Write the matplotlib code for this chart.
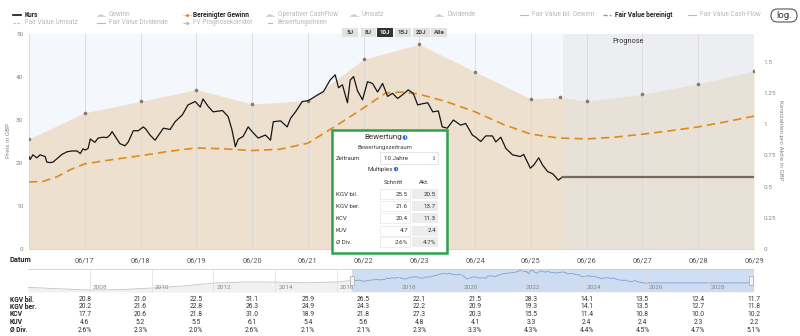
import matplotlib
matplotlib.use('Agg')
import matplotlib.pyplot as plt
import matplotlib.transforms as mtransforms
from matplotlib.patches import Rectangle, FancyBboxPatch, Circle

plt.rcParams['font.family'] = ['Roboto', 'DejaVu Sans']

# ---------------- Daten ----------------
# Kurs (GBP), Jahr als Dezimalzahl
kurs_jahr = [2016.50, 2016.52, 2016.57, 2016.64, 2016.70, 2016.79, 2016.82, 2016.88, 2016.93,
             2017.02, 2017.09, 2017.18, 2017.27, 2017.36, 2017.42, 2017.47, 2017.51, 2017.56,
             2017.60, 2017.68, 2017.74, 2017.83, 2017.90, 2017.95, 2017.99, 2018.04, 2018.13,
             2018.22, 2018.28, 2018.37, 2018.46, 2018.55, 2018.60, 2018.67, 2018.76, 2018.91,
             2019.03, 2019.12, 2019.25, 2019.35, 2019.48, 2019.57, 2019.62, 2019.71, 2019.80,
             2019.97, 2020.07, 2020.14, 2020.20, 2020.25, 2020.34, 2020.43, 2020.50, 2020.61,
             2020.74, 2020.83, 2020.88, 2021.01, 2021.13, 2021.19, 2021.28, 2021.40, 2021.51,
             2021.67, 2021.78, 2021.90, 2021.99, 2022.05, 2022.12, 2022.21, 2022.26, 2022.32,
             2022.39, 2022.48, 2022.57, 2022.66, 2022.75, 2022.84, 2022.93, 2023.02, 2023.11,
             2023.21, 2023.30, 2023.39, 2023.47, 2023.56, 2023.65, 2023.74, 2023.84, 2023.91,
             2024.00, 2024.11, 2024.24, 2024.33, 2024.45, 2024.51, 2024.60, 2024.69, 2024.81,
             2024.87, 2024.96, 2025.05, 2025.17, 2025.31, 2025.37, 2025.49, 2025.55, 2025.64,
             2025.71, 2025.80, 2025.89, 2025.94, 2025.99, 2026.07]
kurs = [21.5, 20.8, 21.9, 21.2, 21.9, 21.5, 20.2, 20.1, 20.2,
        21.2, 22.0, 22.6, 22.8, 22.8, 22.2, 23.3, 23.0, 23.4,
        25.6, 24.8, 25.8, 26.0, 25.9, 26.5, 27.3, 26.3, 24.5,
        24.0, 24.9, 27.5, 27.5, 28.4, 27.8, 26.5, 25.3, 28.1,
        27.8, 29.6, 31.2, 33.5, 34.3, 33.0, 34.9, 33.2, 31.9,
        32.2, 30.8, 27.7, 23.8, 25.5, 26.2, 28.4, 27.3, 25.8,
        26.5, 25.3, 29.6, 29.8, 28.4, 30.4, 31.9, 34.3, 34.5,
        35.8, 36.6, 39.3, 40.5, 37.5, 38.2, 34.0, 39.3, 40.1,
        36.8, 34.7, 38.9, 38.5, 36.5, 38.5, 35.5, 36.2, 35.0,
        36.0, 37.0, 36.2, 33.5, 33.8, 34.0, 31.9, 32.1, 28.4,
        28.1, 30.0, 28.8, 29.2, 26.5, 26.0, 25.0, 26.3, 26.3,
        24.9, 26.0, 23.4, 21.9, 21.5, 22.0, 18.8, 19.5, 21.2,
        19.5, 18.0, 17.5, 16.8, 16.0, 16.8]

# Fair Value bereinigt (GBP)
fv_jahr = [2016.5, 2016.75, 2017.0, 2017.25, 2017.5, 2018.0, 2018.5, 2019.0, 2019.5, 2020.0,
           2020.5, 2021.0, 2021.5, 2022.0, 2022.5, 2022.9, 2023.2, 2023.5, 2024.0, 2024.5,
           2025.0, 2025.5, 2026.0, 2026.5, 2027.0, 2027.5, 2028.0, 2028.5, 2029.0, 2029.5]
fv_bereinigt = [15.6, 15.7, 16.8, 18.5, 19.8, 20.8, 21.7, 22.7, 23.5, 23.3,
                22.9, 23.2, 24.6, 28.6, 32.8, 36.3, 36.5, 36.0, 34.2, 31.9,
                29.0, 26.7, 25.8, 25.6, 26.0, 26.7, 27.5, 28.4, 29.6, 30.9]

# Bereinigter Gewinn pro Aktie (GBP, rechte Achse)
gewinn_jahr = [2016.5, 2017.5, 2018.5, 2019.5, 2020.5, 2021.5, 2022.5, 2023.5, 2024.5,
               2025.5, 2026.02, 2026.5, 2027.5, 2028.5, 2029.5]
gewinn_bereinigt = [0.883, 1.093, 1.183, 1.279, 1.162, 1.190, 1.521, 1.641, 1.421,
                    1.203, 1.217, 1.186, 1.241, 1.324, 1.428]
kgv_faktor = 29.0

# Navigator (Gesamthistorie vor dem Ausschnitt)
nav_jahr = [2006.0, 2007.0, 2008.0, 2009.0, 2010.0, 2011.0, 2012.0, 2013.0, 2014.0, 2015.0, 2016.0]
nav_kurs = [8.6, 6.0, 3.7, 4.5, 7.3, 11.0, 16.4, 18.5, 18.3, 17.0, 18.5]

tick_jahre = [2017.5, 2018.5, 2019.5, 2020.5, 2021.5, 2022.5, 2023.5, 2024.5, 2025.5,
              2026.5, 2027.5, 2028.5, 2029.5]
tick_labels = ['06/17', '06/18', '06/19', '06/20', '06/21', '06/22', '06/23', '06/24',
               '06/25', '06/26', '06/27', '06/28', '06/29']

tab_namen = ['KGV bil.', 'KGV ber.', 'KCV', 'KUV', 'Ø Div.']
kgv_bil = ['20.8', '21.0', '22.5', '51.1', '25.9', '26.5', '22.1', '21.5', '28.3', '14.1', '13.5', '12.4', '11.7']
kgv_ber = ['20.2', '21.6', '22.8', '26.3', '24.9', '24.3', '22.2', '20.9', '19.3', '14.1', '13.5', '12.7', '11.8']
kcv = ['17.7', '20.6', '21.8', '31.0', '18.9', '21.8', '27.3', '20.3', '15.5', '11.4', '10.8', '10.0', '10.2']
kuv = ['4.6', '5.2', '5.5', '6.1', '5.4', '5.6', '4.8', '4.1', '3.3', '2.4', '2.4', '2.3', '2.2']
div = ['2.6%', '2.3%', '2.0%', '2.6%', '2.1%', '2.1%', '2.3%', '3.3%', '4.3%', '4.4%', '4.5%', '4.7%', '5.1%']

bew_schnitt = ['25.5', '21.6', '20.4', '4.7', '2.6%']
bew_akt = ['20.5', '13.7', '11.3', '2.4', '4.7%']

prognose_start = 2026.07
x_min, x_max = 2016.5, 2029.5

# ---------------- Figur ----------------
W, H = 800, 336
fig = plt.figure(figsize=(8, 3.36), dpi=100)
fig.patch.set_facecolor('white')

ax = fig.add_axes([29 / W, (H - 249) / H, 725 / W, 215 / H])
ax.set_facecolor('#f4f7fc')
ax.set_xlim(x_min, x_max)
ax.set_ylim(0, 50)

# Bewertungsband (Gewinn * KGV)
band = [g * kgv_faktor for g in gewinn_bereinigt]
ax.fill_between(gewinn_jahr, 0, band, color='#ede0ce', lw=0, zorder=1)
ax.plot(gewinn_jahr, band, ls='none', marker='o', ms=1.6, color='#8c7b6b', zorder=4)

# Prognosebereich
ax.axvspan(prognose_start, x_max, color='#e4e4e4', alpha=0.45, lw=0, zorder=1.5)
ax.text((prognose_start + x_max) / 2 - 0.55, 48.2, 'Prognose', fontsize=5.3, color='#333',
        ha='center', va='center', zorder=5)

ax.plot(fv_jahr, fv_bereinigt, color='#e08a1e', lw=1.2, dashes=(5, 3), zorder=3)
ax.plot(kurs_jahr, kurs, color='#151515', lw=0.9, zorder=4)
ax.plot([kurs_jahr[-1], x_max], [kurs[-1], kurs[-1]], color='#77685a', lw=1.6, zorder=4)

ax.set_xticks(tick_jahre)
ax.set_xticklabels(tick_labels)
ax.set_yticks(range(0, 51, 10))
ax.grid(axis='x', color='#d9d9d9', lw=0.6, zorder=2)
ax.set_axisbelow(False)
ax.tick_params(axis='x', length=0, pad=6, labelsize=5.3, labelcolor='#555')
ax.tick_params(axis='y', length=0, pad=4, labelsize=4.6, labelcolor='#888')
for s in ['top', 'right', 'left']:
    ax.spines[s].set_visible(False)
ax.spines['bottom'].set_color('#cfcfcf')
ax.spines['bottom'].set_linewidth(0.6)
ax.axvline(x_min, color='#d9d9d9', lw=0.6, zorder=2)

ax2 = ax.twinx()
ax2.set_ylim(0, 50 / kgv_faktor)
ax2.set_yticks([0, 0.25, 0.5, 0.75, 1, 1.25, 1.5])
ax2.set_yticklabels(['0', '0.25', '0.5', '0.75', '1', '1.25', '1.5'])
ax2.tick_params(axis='y', length=0, pad=7, labelsize=4.6, labelcolor='#888')
for s in ax2.spines.values():
    s.set_visible(False)

# ---------------- Navigator ----------------
nav = fig.add_axes([28 / W, (H - 292) / H, 726 / W, 23 / H])
nav.set_xlim(2006.0, 2029.5)
nav.set_ylim(0, 42.5)
nav_x = nav_jahr + kurs_jahr + [x_max]
nav_y = nav_kurs + kurs + [kurs[-1]]
nav.fill_between(nav_x, 0, nav_y, color='#f1f1f1', lw=0)
nav.plot(nav_jahr + kurs_jahr[:1], nav_kurs + kurs[:1], color='#c4c4c4', lw=0.6)
nav.axvspan(x_min, x_max, color='#c7d9f2', alpha=0.85, lw=0)
nav.plot(kurs_jahr + [x_max], kurs + [kurs[-1]], color='#7d9fcf', lw=0.6)
for j in range(2008, 2029, 2):
    nav.axvline(j, color='#dcdcdc', lw=0.5)
    nav.text(j + 0.1, 3, str(j), fontsize=4.6, color='#888', ha='left', va='bottom')
nav.set_xticks([])
nav.set_yticks([])
for s in ['left', 'right', 'bottom']:
    nav.spines[s].set_visible(False)
nav.spines['top'].set_color('#d0d0d0')
nav.spines['top'].set_linewidth(0.6)
nav.patch.set_alpha(0)

# ---------------- Overlay (Pixelkoordinaten) ----------------
ov = fig.add_axes([0, 0, 1, 1], zorder=10)
ov.set_xlim(0, W)
ov.set_ylim(H, 0)
ov.axis('off')
ov.patch.set_visible(False)

# Navigator-Griffe
for gx in (352, 751):
    ov.add_patch(Rectangle((gx - 2, 276), 4, 9, fc='#f4f4f4', ec='#a8a8a8', lw=0.5))

# Legende
grau = '#b8b8b8'
def leg_line(x, y, color, ls='-', lw=1.0, marker=None, mc=None):
    ov.plot([x, x + 8], [y, y], color=color, ls=ls, lw=lw)
    if marker:
        ov.plot([x + 4], [y], marker=marker, ms=2.2, color=mc or color, mec='none')

def leg_bars(x, y):
    ov.plot([x, x + 8], [y + 1, y + 1], color='#d0d0d0', lw=0.6)
    ov.bar([x + 2, x + 4, x + 6], [-1.5, -2.5, -1.0], bottom=y + 1, width=1.2, color='#cfcfcf')

r1, r2 = 15, 23
leg_line(13, r1, '#111', lw=1.2)
ov.text(25, r1, 'Kurs', fontsize=4.7, fontweight='bold', color='#222', va='center')
leg_line(13, r2, grau, ls=(0, (2, 1.5)), lw=0.8)
ov.text(25, r2, 'Fair Value Umsatz', fontsize=4.7, color=grau, va='center')

leg_bars(97, r1)
ov.text(109, r1, 'Gewinn', fontsize=4.7, color=grau, va='center')
leg_line(97, r2, grau, lw=0.8)
ov.text(109, r2, 'Fair Value Dividende', fontsize=4.7, color=grau, va='center')

leg_line(183, r1, '#f0c08a', lw=0.5, marker='o', mc='#e08a1e')
ov.text(193, r1, 'Bereinigter Gewinn', fontsize=4.7, fontweight='bold', color='#222', va='center')
leg_line(183, r2, grau, ls=(0, (2, 1.5)), lw=0.8, marker='o')
ov.text(193, r2, 'FV Prognosekorridor', fontsize=4.7, color=grau, va='center')

leg_bars(266, r1)
ov.text(278, r1, 'Operativer CashFlow', fontsize=4.7, color=grau, va='center')
ov.plot([268, 272], [r2, r2], color=grau, lw=0.8)
ov.text(278, r2, 'Bewertungslinien', fontsize=4.7, color=grau, va='center')

leg_bars(350, r1)
ov.text(362, r1, 'Umsatz', fontsize=4.7, color=grau, va='center')
leg_bars(435, r1)
ov.text(447, r1, 'Dividende', fontsize=4.7, color=grau, va='center')
leg_line(520, r1, grau, lw=0.8)
ov.text(532, r1, 'Fair Value bil. Gewinn', fontsize=4.7, color=grau, va='center')
leg_line(603, r1, '#e08a1e', ls=(0, (3, 1.5)), lw=1.0)
ov.text(615, r1, 'Fair Value bereinigt', fontsize=4.7, fontweight='bold', color='#222', va='center')
leg_line(688, r1, grau, lw=0.8)
ov.text(700, r1, 'Fair Value Cash-Flow', fontsize=4.7, color=grau, va='center')

ov.add_patch(FancyBboxPatch((771, 9), 26, 13, boxstyle='round,pad=0,rounding_size=6.5',
                            fc='white', ec='#555', lw=0.8))
ov.text(784, 15.5, 'log.', fontsize=6.8, color='#333', ha='center', va='center')

# Zeitraum-Buttons
buttons = [('5J', 342, 16), ('8J', 361, 15), ('10J', 377, 16), ('15J', 395, 16), ('20J', 413, 17), ('Alle', 431, 16)]
for lab, bx, bw in buttons:
    aktiv = lab == '10J'
    ov.add_patch(Rectangle((bx, 28), bw, 9, fc='#333333' if aktiv else '#e2e2e2', ec='none'))
    ov.text(bx + bw / 2, 32.7, lab, fontsize=4.5, fontweight='bold',
            color='white' if aktiv else '#444', ha='center', va='center')

# Achsentitel
ov.text(8, 140, 'Preis in GBP', fontsize=4.6, color='#888', rotation=90, ha='center', va='center')
ov.text(781, 140, 'Kennzahlen pro Aktie in GBP', fontsize=4.6, color='#888', rotation=270,
        ha='center', va='center')
ov.text(10, 260, 'Datum', fontsize=5.3, fontweight='bold', color='#222', va='center')

# Tabelle unten
tr = mtransforms.blended_transform_factory(ax.transData, ov.transData)
zeilen_y = [299.5, 307, 314.5, 322.5, 330]
for name, werte, zy in zip(tab_namen, [kgv_bil, kgv_ber, kcv, kuv, div], zeilen_y):
    ov.text(10, zy, name, fontsize=4.9, fontweight='bold', color='#222', va='center')
    for xj, w in zip(tick_jahre, werte):
        ov.text(xj, zy, w, transform=tr, fontsize=4.9, color='#333', ha='center', va='center')

# Bewertungsbox
ov.add_patch(Rectangle((332, 130), 115, 123, fc='white', ec='#2ba24c', lw=1.8))
ov.text(383, 137.5, 'Bewertung', fontsize=5.8, color='#333', ha='center', va='center')
ov.add_patch(Circle((405, 137.5), 2.4, fc='#2d6fd8', ec='none'))
ov.text(405, 137.7, 'i', fontsize=3.4, color='white', fontweight='bold', ha='center', va='center')
ov.text(385, 147.5, 'Bewertungszeitraum', fontsize=4.3, color='#444', ha='center', va='center')
ov.text(336, 158, 'Zeitraum', fontsize=4.4, color='#333', va='center')
ov.add_patch(Rectangle((380, 152), 58, 12, fc='white', ec='#dcdcdc', lw=0.5))
ov.text(384, 158, '10 Jahre', fontsize=4.5, color='#333', va='center')
ov.text(434, 158, '↕', fontsize=3.6, color='#555', ha='center', va='center',
        family=['DejaVu Sans'])
ov.text(380, 169, 'Multiples', fontsize=4.5, color='#333', ha='center', va='center')
ov.add_patch(Circle((396, 169), 2.2, fc='#2d6fd8', ec='none'))
ov.text(396, 169.2, 'i', fontsize=3.2, color='white', fontweight='bold', ha='center', va='center')
ov.text(393, 182, 'Schnitt', fontsize=4.4, color='#333', ha='center', va='center')
ov.text(424, 182, 'Akt.', fontsize=4.4, color='#333', ha='center', va='center')
bew_y = [194, 206, 218, 230.5, 242]
for name, s, a, by in zip(tab_namen, bew_schnitt, bew_akt, bew_y):
    ov.text(336, by, name, fontsize=4.4, color='#333', va='center')
    ov.add_patch(Rectangle((380, by - 5), 30, 10, fc='white', ec='#e6e6e6', lw=0.5))
    ov.add_patch(Rectangle((412, by - 5), 26, 10, fc='#ececec', ec='none'))
    ov.text(408, by, s, fontsize=4.5, color='#333', ha='right', va='center')
    ov.text(436, by, a, fontsize=4.5, color='#333', ha='right', va='center')

fig.savefig('out.png', dpi=100)
